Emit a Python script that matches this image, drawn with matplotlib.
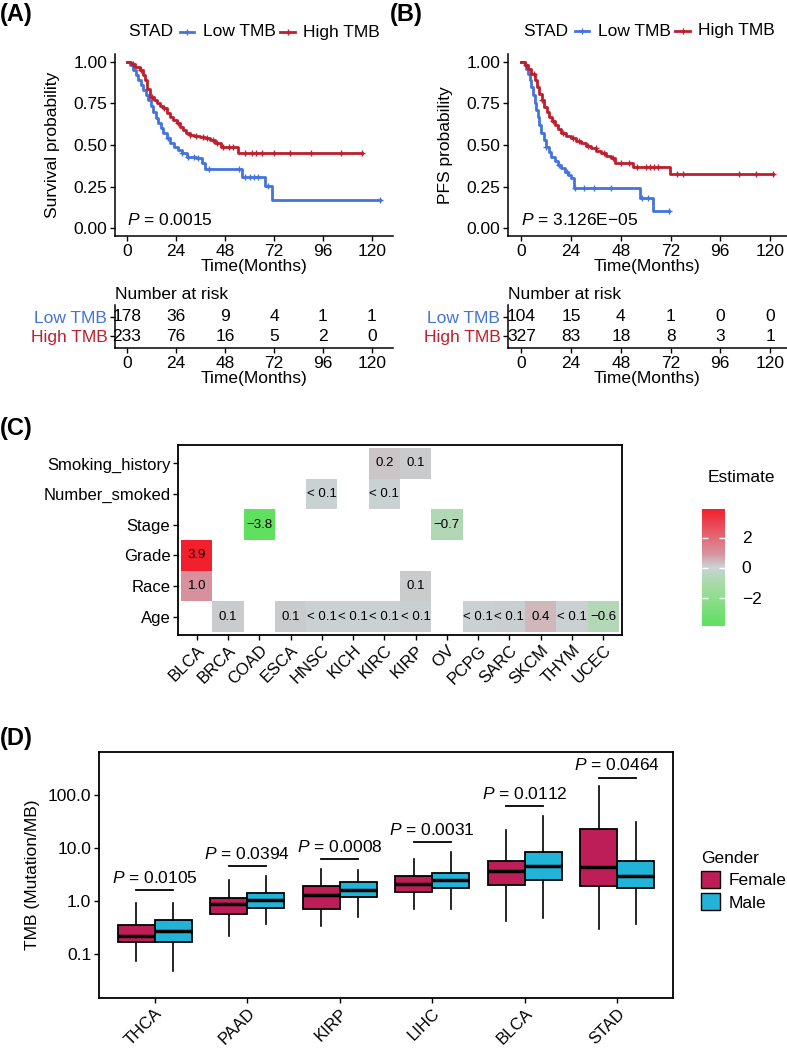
import numpy as np
import matplotlib
matplotlib.use("Agg")
import matplotlib.pyplot as plt
from matplotlib.colors import LinearSegmentedColormap, TwoSlopeNorm
from matplotlib.lines import Line2D
from matplotlib.patches import Patch

plt.rcParams['font.family'] = ['Liberation Sans', 'DejaVu Sans']
plt.rcParams['mathtext.fontset'] = 'custom'
plt.rcParams['mathtext.it'] = 'Liberation Sans:italic'
plt.rcParams['mathtext.rm'] = 'Liberation Sans'

# ---------------- data ----------------
# (A) overall survival, STAD
a_low_t = [0, 1.5, 3.1, 4.3, 5.5, 6.8, 8, 9.2, 10.4, 11.7, 12.9, 14.1, 15.3, 16.5,
           17.8, 19.4, 21, 23, 25.1, 27, 29.2, 31.5, 34, 36.6, 38.2, 56.2, 67.6, 70.8]
a_low_s = [1.0, 0.98, 0.95, 0.92, 0.89, 0.86, 0.83, 0.80, 0.77, 0.735, 0.70, 0.665, 0.63, 0.60,
           0.57, 0.54, 0.51, 0.49, 0.47, 0.45, 0.43, 0.425, 0.42, 0.39, 0.355, 0.31, 0.255, 0.17]
a_low_end = 124
a_low_cens = [20, 27, 30, 33, 35, 40, 55, 58, 60, 62, 64, 69, 124]
a_high_t = [0, 2, 4, 6.4, 8, 8.8, 10, 11.3, 13, 14.5, 16, 17.8, 19.5, 21, 22.5, 24.3, 26,
            27.4, 29, 30.9, 33, 35.7, 38, 40.6, 43, 46, 54.5]
a_high_s = [1.0, 0.985, 0.97, 0.95, 0.92, 0.89, 0.84, 0.79, 0.77, 0.75, 0.735, 0.72, 0.695,
            0.67, 0.65, 0.63, 0.61, 0.59, 0.575, 0.56, 0.555, 0.548, 0.54, 0.53, 0.515, 0.485, 0.45]
a_high_end = 115
a_high_cens = [3, 7, 12, 18, 25, 31, 34, 37, 39, 42, 44, 47, 50, 52, 58, 61, 63, 66, 72,
               80, 90, 105, 115]

# (B) progression-free survival, STAD
b_low_t = [0, 1.5, 2.3, 3.1, 3.9, 4.7, 5.5, 6.3, 7.1, 7.9, 8.7, 9.5, 10.7, 11.9, 13.1,
           14.4, 16, 17.6, 19.2, 20.8, 22.4, 24, 25.6, 57, 63.5]
b_low_s = [1.0, 0.98, 0.955, 0.93, 0.89, 0.85, 0.80, 0.75, 0.71, 0.67, 0.62, 0.57, 0.53,
           0.49, 0.46, 0.43, 0.405, 0.38, 0.36, 0.34, 0.32, 0.30, 0.24, 0.18, 0.10]
b_low_end = 71
b_low_cens = [12, 18, 22, 26, 30, 35, 43, 58, 61, 71]
b_high_t = [0, 1.5, 3.1, 4.7, 6.3, 7.5, 8.7, 9.9, 11.1, 12.3, 13.5, 14.8, 16, 17.6, 19.2,
            21.6, 24, 26.5, 28.9, 31.3, 33.7, 36.1, 38.6, 41, 43.4, 45, 53.9, 71.6]
b_high_s = [1.0, 0.98, 0.96, 0.925, 0.89, 0.85, 0.81, 0.77, 0.73, 0.70, 0.67, 0.645, 0.62,
            0.595, 0.57, 0.555, 0.54, 0.525, 0.51, 0.495, 0.48, 0.465, 0.45, 0.435, 0.42,
            0.39, 0.365, 0.325]
b_high_end = 121.6
b_high_cens = [2, 6, 10, 15, 20, 25, 28, 32, 36, 40, 44, 48, 52, 56, 60, 62, 64, 66, 75,
               78, 105, 113, 121.6]

risk_times = [0, 24, 48, 72, 96, 120]
a_risk_low = [178, 36, 9, 4, 1, 1]
a_risk_high = [233, 76, 16, 5, 2, 0]
b_risk_low = [104, 15, 4, 1, 0, 0]
b_risk_high = [327, 83, 18, 8, 3, 1]

# (C) heatmap of estimates
hm_cancers = ['BLCA', 'BRCA', 'COAD', 'ESCA', 'HNSC', 'KICH', 'KIRC', 'KIRP', 'OV',
              'PCPG', 'SARC', 'SKCM', 'THYM', 'UCEC']
hm_vars = ['Age', 'Race', 'Grade', 'Stage', 'Number_smoked', 'Smoking_history']
cell_cancer = ['KIRC', 'KIRP', 'HNSC', 'KIRC', 'COAD', 'OV', 'BLCA', 'BLCA', 'KIRP',
               'BRCA', 'ESCA', 'HNSC', 'KICH', 'KIRC', 'KIRP', 'PCPG', 'SARC', 'SKCM',
               'THYM', 'UCEC']
cell_var = ['Smoking_history', 'Smoking_history', 'Number_smoked', 'Number_smoked',
            'Stage', 'Stage', 'Grade', 'Race', 'Race'] + ['Age'] * 11
cell_est = [0.2, 0.1, 0.03, 0.02, -3.8, -0.7, 3.9, 1.0, 0.1,
            0.1, 0.1, 0.03, 0.02, 0.03, 0.04, 0.03, 0.05, 0.4, 0.03, -0.6]
cell_text = ['0.2', '0.1', '< 0.1', '< 0.1', '\u22123.8', '\u22120.7', '3.9', '1.0', '0.1',
             '0.1', '0.1', '< 0.1', '< 0.1', '< 0.1', '< 0.1', '< 0.1', '< 0.1', '0.4',
             '< 0.1', '\u22120.6']

# (D) TMB by gender
d_cancers = ['THCA', 'PAAD', 'KIRP', 'LIHC', 'BLCA', 'STAD']
f_whislo = [0.074, 0.22, 0.34, 0.72, 0.42, 0.30]
f_q1 = [0.17, 0.57, 0.71, 1.45, 1.99, 1.88]
f_med = [0.22, 0.90, 1.30, 2.05, 3.74, 4.3]
f_q3 = [0.35, 1.14, 1.93, 2.9, 5.77, 22.8]
f_whishi = [0.91, 2.5, 4.0, 6.3, 22, 143]
m_whislo = [0.049, 0.37, 0.51, 0.72, 0.49, 0.37]
m_q1 = [0.17, 0.75, 1.2, 1.75, 2.47, 1.75]
m_med = [0.28, 1.04, 1.65, 2.47, 4.57, 2.97]
m_q3 = [0.45, 1.39, 2.3, 3.4, 8.2, 5.77]
m_whishi = [0.94, 2.9, 3.9, 8.4, 40, 30]
p_labels = ['0.0105', '0.0394', '0.0008', '0.0031', '0.0112', '0.0464']
p_line_y = [1.6, 4.6, 6.1, 12.8, 61, 208]

# ---------------- style ----------------
BLUE = '#4274DC'
RED = '#BE1E2D'
FEMALE = '#BE1E58'
MALE = '#22B4D8'
FS = 12.5

W, H = 787, 1048
fig = plt.figure(figsize=(W / 100, H / 100), dpi=100)


def rect(l, t, r, b):
    return [l / W, 1 - b / H, (r - l) / W, (b - t) / H]


def style_axes(ax, lw=1.1):
    for side in ['top', 'right']:
        ax.spines[side].set_visible(False)
    for side in ['left', 'bottom']:
        ax.spines[side].set_linewidth(lw)
    ax.tick_params(labelsize=FS, width=1, length=3.5, pad=2)


def km_panel(ax, curves, xlim, ylabel, ptext):
    for t, s, end, cens, col in curves:
        tt = np.append(t, end)
        ss = np.append(s, s[-1])
        ax.step(tt, ss, where='post', color=col, lw=2)
        idx = np.searchsorted(t, cens, side='right') - 1
        ax.plot(cens, np.array(s)[idx], '+', color=col, ms=5, mew=1)
    ax.set_xlim(*xlim)
    ax.set_ylim(-0.048, 1.048)
    ax.set_xticks(risk_times)
    ax.set_yticks([0, 0.25, 0.5, 0.75, 1.0])
    ax.set_yticklabels(['0.00', '0.25', '0.50', '0.75', '1.00'])
    ax.set_ylabel(ylabel, fontsize=FS, labelpad=10)
    ax.set_xlabel('Time(Months)', fontsize=FS, labelpad=0)
    ax.text(0, 0.05, r'$\mathit{P}$ = ' + ptext, fontsize=FS, va='center', ha='left')
    style_axes(ax)


def risk_table(ax, low, high, xlim):
    for t, n1, n2 in zip(risk_times, low, high):
        ax.text(t, 1, str(n1), ha='center', va='center', fontsize=FS)
        ax.text(t, 0, str(n2), ha='center', va='center', fontsize=FS)
    ax.set_xlim(*xlim)
    ax.set_ylim(-0.6, 1.6)
    ax.set_xticks(risk_times)
    ax.set_yticks([1, 0])
    ax.set_yticklabels(['Low TMB', 'High TMB'])
    for lbl, c in zip(ax.get_yticklabels(), [BLUE, RED]):
        lbl.set_color(c)
    ax.set_xlabel('Time(Months)', fontsize=FS, labelpad=0)
    ax.set_title('Number at risk', loc='left', fontsize=FS, pad=4)
    style_axes(ax)


def km_legend(x0, y):
    fig.text(x0 / W, 1 - y / H, 'STAD', fontsize=FS, va='center', ha='left')
    for dx0, dx1, dl, lab, col in [(52, 66, 75, 'Low TMB', BLUE), (152, 167, 175, 'High TMB', RED)]:
        fig.add_artist(Line2D([(x0 + dx0) / W, (x0 + dx1) / W], [1 - y / H] * 2,
                              color=col, lw=2, transform=fig.transFigure))
        fig.add_artist(Line2D([(x0 + (dx0 + dx1) / 2) / W], [1 - y / H], color=col,
                              marker='+', ms=5, mew=1, transform=fig.transFigure))
        fig.text((x0 + dl) / W, 1 - y / H, lab, fontsize=FS, va='center', ha='left')


# ---------------- (A) ----------------
axA = fig.add_axes(rect(115, 54, 393, 236))
km_panel(axA, [(a_low_t, a_low_s, a_low_end, a_low_cens, BLUE),
               (a_high_t, a_high_s, a_high_end, a_high_cens, RED)],
         (-5.9, 130.3), 'Survival probability', '0.0015')
km_legend(128, 32)
axAt = fig.add_axes(rect(115, 305, 393, 348))
risk_table(axAt, a_risk_low, a_risk_high, (-5.9, 130.3))

# ---------------- (B) ----------------
axB = fig.add_axes(rect(508, 54, 787, 236))
km_panel(axB, [(b_low_t, b_low_s, b_low_end, b_low_cens, BLUE),
               (b_high_t, b_high_s, b_high_end, b_high_cens, RED)],
         (-6.5, 128.2), 'PFS probability', '3.126E\u221205')
km_legend(523, 31)
axBt = fig.add_axes(rect(508, 305, 787, 348))
risk_table(axBt, b_risk_low, b_risk_high, (-6.5, 128.2))

# ---------------- (C) ----------------
axC = fig.add_axes(rect(178, 445, 622, 635))
grid = np.full((len(hm_vars), len(hm_cancers)), np.nan)
for c, v, e in zip(cell_cancer, cell_var, cell_est):
    grid[hm_vars.index(v), hm_cancers.index(c)] = e
cmap = LinearSegmentedColormap.from_list(
    'est', [(0.0, '#5FE05F'), (0.375, '#A9DBA9'), (0.5, '#C9D3D3'),
            (0.625, '#D8919E'), (1.0, '#F2202C')])
cmap.set_bad('white')
norm = TwoSlopeNorm(vmin=-3.8, vcenter=0, vmax=3.9)
im = axC.imshow(grid, cmap=cmap, norm=norm, origin='lower', aspect='auto',
                extent=(-0.5, len(hm_cancers) - 0.5, -0.5, len(hm_vars) - 0.5),
                interpolation='nearest')
for c, v, txt in zip(cell_cancer, cell_var, cell_text):
    axC.text(hm_cancers.index(c), hm_vars.index(v), txt, ha='center', va='center',
             fontsize=9.5)
axC.set_xlim(-0.6, len(hm_cancers) - 0.4)
axC.set_ylim(-0.6, len(hm_vars) - 0.4)
axC.set_xticks(range(len(hm_cancers)))
axC.set_xticklabels(hm_cancers, rotation=45, ha='right', rotation_mode='anchor')
axC.set_yticks(range(len(hm_vars)))
axC.set_yticklabels(hm_vars)
for sp in axC.spines.values():
    sp.set_linewidth(1.3)
axC.tick_params(labelsize=12, width=1, length=3.5, pad=2)

cax = fig.add_axes(rect(702, 509, 725, 626))
cb = fig.colorbar(im, cax=cax)
cb.set_ticks([-2, 0, 2])
cb.set_ticklabels(['\u22122', '0', '2'])
cb.outline.set_visible(False)
cax.tick_params(axis='y', direction='in', color='white', length=4, width=1,
                left=True, right=True, labelsize=FS, pad=12)
fig.text(708 / W, 1 - 477 / H, 'Estimate', fontsize=FS, va='center', ha='left')

# ---------------- (D) ----------------
axD = fig.add_axes(rect(99, 752, 673, 998))
pos = np.arange(len(d_cancers))
for off, col, lo, q1, md, q3, hi in [(-0.2, FEMALE, f_whislo, f_q1, f_med, f_q3, f_whishi),
                                      (0.2, MALE, m_whislo, m_q1, m_med, m_q3, m_whishi)]:
    stats = [dict(whislo=a, q1=b, med=c, q3=d, whishi=e, fliers=[])
             for a, b, c, d, e in zip(lo, q1, md, q3, hi)]
    axD.bxp(stats, positions=pos + off, widths=0.4, patch_artist=True, showcaps=False,
            showfliers=False,
            boxprops=dict(facecolor=col, edgecolor='black', linewidth=1.3),
            medianprops=dict(color='black', linewidth=2.5),
            whiskerprops=dict(color='black', linewidth=1.2))
for i, (lab, yv) in enumerate(zip(p_labels, p_line_y)):
    axD.plot([i - 0.2, i + 0.2], [yv, yv], color='black', lw=1.3)
    axD.annotate(r'$\mathit{P}$ = ' + lab, (i, yv), xytext=(0, 3), textcoords='offset points',
                 ha='center', va='bottom', fontsize=FS)
axD.set_yscale('log')
axD.set_ylim(10 ** -1.82, 10 ** 2.80)
axD.set_yticks([0.1, 1, 10, 100])
axD.set_yticklabels(['0.1', '1.0', '10.0', '100.0'])
axD.minorticks_off()
axD.set_xlim(-0.6, len(d_cancers) - 0.4)
axD.set_xticks(pos)
axD.set_xticklabels(d_cancers, rotation=45, ha='right', rotation_mode='anchor')
axD.set_ylabel('TMB (Mutation/MB)', fontsize=FS, labelpad=6)
for sp in axD.spines.values():
    sp.set_linewidth(1.3)
axD.tick_params(axis='y', labelsize=FS, width=1, length=3.5, pad=2)
axD.tick_params(axis='x', labelsize=12, width=1, length=3.5, pad=2)
axD.legend(handles=[Patch(facecolor=FEMALE, edgecolor='black', label='Female'),
                    Patch(facecolor=MALE, edgecolor='black', label='Male')],
           title='Gender', loc='upper left', bbox_to_anchor=(692 / W, 1 - 842 / H),
           bbox_transform=fig.transFigure, frameon=False, fontsize=FS, borderpad=0,
           title_fontsize=FS, alignment='left', handlelength=1.1, handleheight=1.1,
           handletextpad=0.5, labelspacing=0.3)

# ---------------- panel labels ----------------
for lab, x, y in [('(A)', 0, 15), ('(B)', 390, 15), ('(C)', 0, 428), ('(D)', 0, 738)]:
    fig.text(x / W, 1 - y / H, lab, fontsize=17, fontweight='bold', va='center', ha='left')

fig.savefig('out.png', dpi=100)
